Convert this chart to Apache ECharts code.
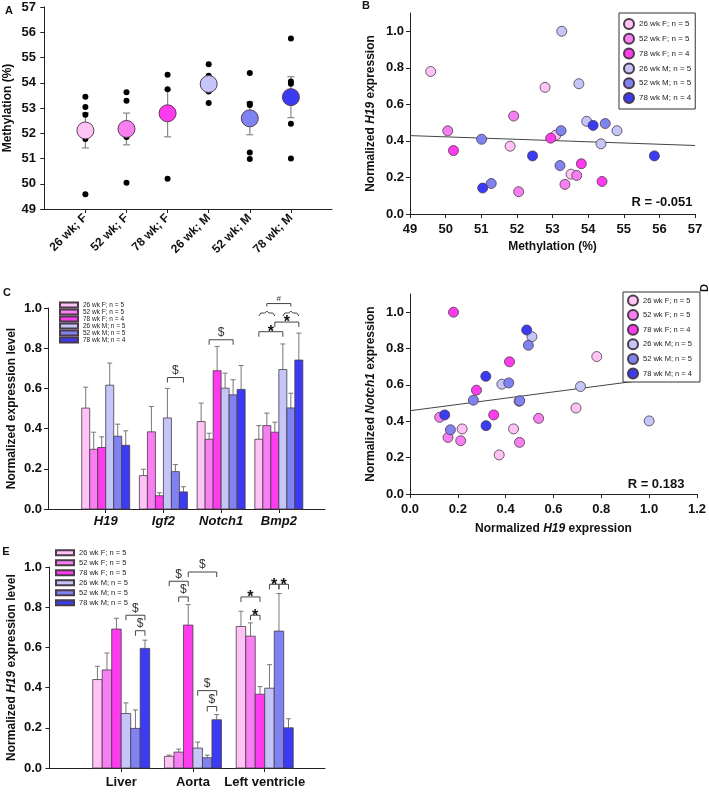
<!DOCTYPE html>
<html><head><meta charset="utf-8">
<script src="https://cdn.jsdelivr.net/npm/echarts@6/dist/echarts.min.js"></script>
<style>html,body{margin:0;padding:0;background:#fff}#c{width:709px;height:792px}</style>
</head><body><div id="c"></div>
<script>
// ---------- DATA ----------
const groupNames = ['26 wk F; n = 5','52 wk F; n = 5','78 wk F; n = 4','26 wk M; n = 5','52 wk M; n = 5','78 wk M; n = 4'];
const groupNamesE = ['26 wk F; n = 5','52 wk F; n = 5','78 wk F; n = 5','26 wk M; n = 5','52 wk M; n = 5','78 wk M; n = 5'];

// Panel A
const aCategories = ['26 wk; F','52 wk; F','78 wk; F','26 wk; M','52 wk; M','78 wk; M'];
const aMeans = [52.11, 52.17, 52.79, 53.95, 52.59, 53.43];
const aSem = [0.69, 0.63, 0.93, 0.30, 0.65, 0.81];
const aPoints = [
  [53.45, 53.04, 52.73, 51.77, 49.58],
  [53.62, 53.29, 51.95, 51.85, 50.04],
  [54.32, 53.74, 52.85, 52.84, 50.20],
  [54.73, 54.28, 53.95, 53.65, 53.20],
  [54.39, 53.17, 53.12, 51.24, 50.98],
  [55.75, 54.05, 53.96, 52.38, 51.00]
];
const aTicks = [49, 57];

// Panel B: [methylation %, normalized H19]
const bPoints = [
  [[49.58,0.780],[51.81,0.371],[52.79,0.693],[53.09,0.431],[53.52,0.218]],
  [[50.06,0.455],[51.91,0.536],[52.05,0.122],[53.35,0.162],[53.68,0.211]],
  [[50.22,0.347],[52.95,0.415],[53.81,0.275],[54.39,0.178]],
  [[53.26,1.000],[53.74,0.713],[53.96,0.507],[54.36,0.384],[54.81,0.456]],
  [[51.01,0.409],[51.28,0.167],[53.24,0.456],[53.21,0.265],[54.48,0.495]],
  [[51.04,0.142],[52.44,0.318],[54.14,0.485],[55.86,0.318]]
];
const bTrend = [[49, 0.429], [57, 0.375]];

// Panel C
const cGenes = ['H19','Igf2','Notch1','Bmp2'];
const cMeans = [
  [0.502, 0.166, 0.435, 0.347],
  [0.297, 0.384, 0.347, 0.415],
  [0.306, 0.066, 0.688, 0.382],
  [0.616, 0.453, 0.601, 0.694],
  [0.362, 0.186, 0.568, 0.503],
  [0.317, 0.085, 0.595, 0.741]
];
const cErr = [
  [0.104, 0.032, 0.092, 0.068],
  [0.085, 0.126, 0.030, 0.062],
  [0.053, 0.015, 0.121, 0.050],
  [0.110, 0.147, 0.075, 0.127],
  [0.060, 0.035, 0.075, 0.073],
  [0.072, 0.026, 0.119, 0.134]
];
// [gene index, from group, to group, y level, label, kind]
const cAnnot = [
  [1, 3, 5, 0.654, '$', 'bracket'],
  [2, 1, 4, 0.842, '$', 'bracket'],
  [3, 0, 3, 0.882, '*', 'bracket'],
  [3, 2, 5, 0.930, '*', 'bracket'],
  [3, 0, 2, 0.975, '', 'brace'],
  [3, 3, 5, 0.975, '', 'brace'],
  [3, 1, 4, 1.022, '#', 'line']
];

// Panel D: [normalized H19, normalized Notch1]
const dPoints = [
  [[0.781,0.756],[0.694,0.473],[0.218,0.358],[0.433,0.358],[0.373,0.215]],
  [[0.124,0.422],[0.538,0.416],[0.159,0.311],[0.212,0.293],[0.458,0.284]],
  [[0.182,1.000],[0.416,0.727],[0.278,0.571],[0.350,0.435]],
  [[1.000,0.402],[0.713,0.591],[0.510,0.865],[0.384,0.604],[0.456,0.510]],
  [[0.495,0.818],[0.413,0.611],[0.265,0.516],[0.459,0.513],[0.169,0.353]],
  [[0.488,0.902],[0.317,0.647],[0.145,0.435],[0.318,0.376]]
];
const dTrend = [[0, 0.458], [1.2, 0.665]];
const rValues = ['-0.051', '0.183'];

// Panel E
const eTissues = ['Liver','Aorta','Left ventricle'];
const eMeans = [
  [0.440, 0.058, 0.704],
  [0.488, 0.079, 0.656],
  [0.691, 0.711, 0.367],
  [0.271, 0.099, 0.397],
  [0.197, 0.051, 0.681],
  [0.595, 0.240, 0.200]
];
const eErr = [
  [0.066, 0.006, 0.076],
  [0.084, 0.015, 0.066],
  [0.054, 0.102, 0.038],
  [0.053, 0.030, 0.117],
  [0.092, 0.013, 0.187],
  [0.041, 0.026, 0.045]
];
const eAnnot = [
  [0, 3, 5, 0.760, '$', 'bracket'],
  [0, 4, 5, 0.683, '$', 'bracket'],
  [1, 0, 2, 0.929, '$', 'bracket'],
  [1, 1, 2, 0.851, '$', 'bracket'],
  [1, 2, 5, 0.975, '$', 'bracket'],
  [1, 3, 5, 0.385, '$', 'bracket'],
  [1, 4, 5, 0.306, '$', 'bracket'],
  [2, 0, 2, 0.851, '*', 'bracket'],
  [2, 1, 2, 0.760, '*', 'bracket'],
  [2, 3, 4, 0.914, '*', 'bracket'],
  [2, 4, 5, 0.914, '*', 'bracket']
];
const unitTicks = [0, 0.2, 0.4, 0.6, 0.8, 1.0];

// ---------- STYLE ----------
const FONT = '"Liberation Sans", Arial, Helvetica, sans-serif';
const colors = ['#ffc3f5','#f77ff1','#ff3bee','#c3c6f7','#7f83f1','#3b3bf3'];
const markBorder = '#4a3a4a';
const axisLine = {lineStyle:{color:'#222', width:1}};
const tickStyle = {length:4, lineStyle:{color:'#222', width:1}};
const lbl = (o) => Object.assign({color:'#111', fontWeight:'bold', fontSize:13, fontFamily:FONT}, o||{});
const nameStyle = {color:'#111', fontWeight:'bold', fontSize:12, fontFamily:FONT,
  rich:{i:{fontStyle:'italic', fontWeight:'bold', fontSize:12, fontFamily:FONT, color:'#111'}}};

function range(a, b){ const r=[]; for(let i=a;i<=b;i++) r.push(i); return r; }

// ---------- RENDERERS ----------
function barRender(k, frac){
  return function(params, api){
    const cx = api.value(0), v = api.value(1), e = api.value(2);
    const w = api.size([1, 0])[0] * frac;
    const base = api.coord([cx, 0]);
    const top = api.coord([cx, v]);
    const et = api.coord([cx, v + e]);
    const x0 = base[0] + (k - 3) * w;
    const xc = x0 + w / 2;
    return {type:'group', children:[
      {type:'line', shape:{x1:xc, y1:top[1], x2:xc, y2:et[1]}, style:{stroke:'#777', lineWidth:1}},
      {type:'line', shape:{x1:xc - 2.5, y1:et[1], x2:xc + 2.5, y2:et[1]}, style:{stroke:'#777', lineWidth:1}},
      {type:'rect', shape:{x:x0, y:top[1], width:w, height:base[1]-top[1]},
        style:{fill:api.visual('color'), stroke:markBorder, lineWidth:0.8}}
    ]};
  };
}
function annotRender(list, frac){
  return function(params, api){
    const a = list[params.dataIndex];
    const w = api.size([1, 0])[0] * frac;
    const p = api.coord([a[0] + 1, a[3]]);
    const x1 = p[0] + (a[1] - 2.5) * w, x2 = p[0] + (a[2] - 2.5) * w, y = p[1];
    const mid = (x1 + x2) / 2;
    const st = {stroke:'#444', lineWidth:1, fill:null};
    const ch = [];
    if (a[5] === 'brace') {
      ch.push({type:'polyline', shape:{points:[[x1,y+3],[x1+2,y],[mid-2,y],[mid,y-2],[mid+2,y],[x2-2,y],[x2,y+3]]}, style:st});
    } else if (a[5] === 'line') {
      ch.push({type:'polyline', shape:{points:[[x1,y+3],[x1,y],[x2,y],[x2,y+3]]}, style:st});
    } else {
      ch.push({type:'polyline', shape:{points:[[x1,y+5],[x1,y],[x2,y],[x2,y+5]]}, style:st});
    }
    if (a[4] === '*') {
      ch.push({type:'text', style:{text:'*', x:mid, y:y+1, align:'center', verticalAlign:'middle', textAlign:'center', textVerticalAlign:'middle', font:'bold 16px '+FONT, fill:'#111'}});
    } else if (a[4] === '#') {
      ch.push({type:'text', style:{text:'#', x:mid, y:y-1, align:'center', verticalAlign:'bottom', textAlign:'center', textVerticalAlign:'bottom', font:'8px '+FONT, fill:'#333'}});
    } else if (a[4]) {
      ch.push({type:'text', style:{text:a[4], x:mid, y:y-1, align:'center', verticalAlign:'bottom', textAlign:'center', textVerticalAlign:'bottom', font:'12px '+FONT, fill:'#333'}});
    }
    return {type:'group', children:ch};
  };
}
function errRender(params, api){
  const x = api.value(0), m = api.value(1), s = api.value(2);
  const lo = api.coord([x, m - s]), hi = api.coord([x, m + s]);
  const st = {stroke:'#888', lineWidth:1.2};
  return {type:'group', children:[
    {type:'line', shape:{x1:lo[0], y1:lo[1], x2:hi[0], y2:hi[1]}, style:st},
    {type:'line', shape:{x1:lo[0]-3.5, y1:lo[1], x2:lo[0]+3.5, y2:lo[1]}, style:st},
    {type:'line', shape:{x1:hi[0]-3.5, y1:hi[1], x2:hi[0]+3.5, y2:hi[1]}, style:st}
  ]};
}

// ---------- OPTION ----------
const grids = [
  {left:41, top:7, width:291, height:202},
  {left:410, top:13, width:285, height:201},
  {left:48, top:308, width:277, height:201},
  {left:410, top:294, width:289, height:200},
  {left:48, top:567, width:277, height:201}
];

const xAxes = [
  {gridIndex:0, type:'value', min:-0.08, max:aCategories.length + 1, axisLine, splitLine:{show:false},
    axisTick:Object.assign({customValues:range(1, aCategories.length)}, tickStyle),
    axisLabel:lbl({customValues:range(1, aCategories.length), rotate:45, fontSize:12, margin:7,
      formatter:v => aCategories[Math.round(v) - 1] || ''})},
  {gridIndex:1, type:'value', min:49, max:57, interval:1, axisLine, axisTick:tickStyle, splitLine:{show:false},
    axisLabel:lbl({margin:9}), name:'Methylation (%)', nameLocation:'middle', nameGap:27, nameTextStyle:nameStyle},
  {gridIndex:2, type:'value', min:0, max:4.8, axisLine, splitLine:{show:false},
    axisTick:Object.assign({customValues:range(1, cGenes.length)}, tickStyle),
    axisLabel:lbl({customValues:range(1, cGenes.length), fontStyle:'italic', margin:6,
      formatter:v => cGenes[Math.round(v) - 1] || ''})},
  {gridIndex:3, type:'value', min:0, max:1.2, interval:0.2, axisLine, axisTick:tickStyle, splitLine:{show:false},
    axisLabel:lbl({margin:9, formatter:v => v.toFixed(1)}),
    name:'Normalized {i|H19} expression', nameLocation:'middle', nameGap:29, nameTextStyle:nameStyle},
  {gridIndex:4, type:'value', min:-0.02, max:3.84, axisLine, splitLine:{show:false},
    axisTick:Object.assign({customValues:range(1, eTissues.length)}, tickStyle),
    axisLabel:lbl({customValues:range(1, eTissues.length), margin:8,
      formatter:v => eTissues[Math.round(v) - 1] || ''})}
];
const yAxes = [
  {gridIndex:0, type:'value', min:aTicks[0], max:aTicks[1], interval:1, axisLine, axisTick:tickStyle, splitLine:{show:false},
    axisLabel:lbl({margin:5}), name:'Methylation (%)', nameLocation:'middle', nameGap:27, nameTextStyle:nameStyle},
  {gridIndex:1, type:'value', min:0, max:1.1, axisLine, splitLine:{show:false},
    axisTick:Object.assign({customValues:unitTicks}, tickStyle),
    axisLabel:lbl({customValues:unitTicks, margin:6, formatter:v => v.toFixed(1)}),
    name:'Normalized {i|H19} expression', nameLocation:'middle', nameGap:33, nameTextStyle:nameStyle},
  {gridIndex:2, type:'value', min:0, max:1, interval:0.2, axisLine, axisTick:tickStyle, splitLine:{show:false},
    axisLabel:lbl({margin:6, formatter:v => v.toFixed(1)}),
    name:'Normalized expression level', nameLocation:'middle', nameGap:30, nameTextStyle:nameStyle},
  {gridIndex:3, type:'value', min:0, max:1.1, axisLine, splitLine:{show:false},
    axisTick:Object.assign({customValues:unitTicks}, tickStyle),
    axisLabel:lbl({customValues:unitTicks, margin:6, formatter:v => v.toFixed(1)}),
    name:'Normalized {i|Notch1} expression', nameLocation:'middle', nameGap:33, nameTextStyle:nameStyle},
  {gridIndex:4, type:'value', min:0, max:1, interval:0.2, axisLine, axisTick:tickStyle, splitLine:{show:false},
    axisLabel:lbl({margin:6, formatter:v => v.toFixed(1)}),
    name:'Normalized {i|H19} expression level', nameLocation:'middle', nameGap:30, nameTextStyle:nameStyle}
];

const series = [];
// Panel A
series.push({type:'custom', xAxisIndex:0, yAxisIndex:0, z:1, silent:true, renderItem:errRender,
  data:aMeans.map((m, i) => [i + 1, m, aSem[i]])});
series.push({type:'scatter', xAxisIndex:0, yAxisIndex:0, z:2, silent:true, symbolSize:6,
  itemStyle:{color:'#000', opacity:1}, data:aPoints.flatMap((g, i) => g.map(v => [i + 1, v]))});
series.push({type:'scatter', xAxisIndex:0, yAxisIndex:0, z:3, silent:true, symbolSize:17,
  itemStyle:{color:p => colors[p.dataIndex], borderColor:'#5a3a5a', borderWidth:1, opacity:1},
  data:aMeans.map((m, i) => [i + 1, m])});
// Panel B
bPoints.forEach((g, k) => series.push({type:'scatter', name:groupNames[k], xAxisIndex:1, yAxisIndex:1, z:3,
  symbolSize:10, itemStyle:{color:colors[k], borderColor:markBorder, borderWidth:0.8, opacity:1}, data:g}));
series.push({type:'line', xAxisIndex:1, yAxisIndex:1, z:2, silent:true, symbol:'none',
  lineStyle:{color:'#444', width:1}, data:bTrend});
// Panel C
cMeans.forEach((row, k) => series.push({type:'custom', name:groupNames[k], xAxisIndex:2, yAxisIndex:2,
  itemStyle:{color:colors[k], borderColor:markBorder, borderWidth:0.8},
  renderItem:barRender(k, 0.1386), data:row.map((v, j) => [j + 1, v, cErr[k][j]])}));
series.push({type:'custom', xAxisIndex:2, yAxisIndex:2, silent:true, clip:false,
  renderItem:annotRender(cAnnot, 0.1386), data:cAnnot.map(a => [a[0] + 1, a[3]])});
// Panel D
dPoints.forEach((g, k) => series.push({type:'scatter', name:groupNames[k], xAxisIndex:3, yAxisIndex:3, z:3,
  symbolSize:10, itemStyle:{color:colors[k], borderColor:markBorder, borderWidth:0.8, opacity:1}, data:g}));
series.push({type:'line', xAxisIndex:3, yAxisIndex:3, z:2, silent:true, symbol:'none',
  lineStyle:{color:'#444', width:1}, data:dTrend});
// Panel E
eMeans.forEach((row, k) => series.push({type:'custom', name:groupNamesE[k], xAxisIndex:4, yAxisIndex:4,
  itemStyle:{color:colors[k], borderColor:markBorder, borderWidth:0.8},
  renderItem:barRender(k, 0.1324), data:row.map((v, j) => [j + 1, v, eErr[k][j]])}));
series.push({type:'custom', xAxisIndex:4, yAxisIndex:4, silent:true, clip:false,
  renderItem:annotRender(eAnnot, 0.1324), data:eAnnot.map(a => [a[0] + 1, a[3]])});

const legendText = (fs, lh) => ({color:'#222', fontSize:fs, lineHeight:lh, fontFamily:FONT});
const legends = [
  {orient:'vertical', left:619, top:13, padding:[5,4,5,4], itemWidth:10, itemHeight:10, itemGap:2.8,
    icon:'circle', borderColor:'#333', borderWidth:1, backgroundColor:'#fff', selectedMode:false,
    textStyle:legendText(8, 10), data:groupNames},
  {orient:'vertical', left:59, top:301.5, padding:0, itemWidth:18, itemHeight:5, itemGap:0,
    icon:'rect', selectedMode:false, textStyle:legendText(6.5, 6.8), data:groupNames},
  {orient:'vertical', left:623, top:292, padding:[2.5,8,2.5,4], itemWidth:10, itemHeight:10, itemGap:2.6,
    icon:'circle', borderColor:'#333', borderWidth:1, backgroundColor:'#fff', selectedMode:false,
    textStyle:legendText(7.5, 10), data:groupNames},
  {orient:'vertical', left:55, top:547.7, padding:0, itemWidth:18, itemHeight:5, itemGap:0,
    icon:'rect', selectedMode:false, textStyle:legendText(7.5, 10), data:groupNamesE}
];

const letter = (t, x, y, rot) => ({type:'text', x, y, rotation:rot||0, silent:true,
  style:{text:t, font:'bold 11px '+FONT, fill:'#111', textAlign:'center', textVerticalAlign:'middle', align:'center', verticalAlign:'middle'}});
const graphic = [
  letter('A', 9, 11), letter('B', 366, 6), letter('C', 7, 293), letter('E', 6, 552), letter('D', 705, 288, Math.PI/2),
  {type:'text', x:662, y:202, silent:true, style:{text:'R = ' + rValues[0], font:'bold 13px '+FONT, fill:'#111', textAlign:'center', textVerticalAlign:'middle', align:'center', verticalAlign:'middle'}},
  {type:'text', x:656, y:484, silent:true, style:{text:'R = ' + rValues[1], font:'bold 13px '+FONT, fill:'#111', textAlign:'center', textVerticalAlign:'middle', align:'center', verticalAlign:'middle'}}
];

const chart = echarts.init(document.getElementById('c'), null, {renderer:'canvas'});
chart.setOption({
  animation:false, backgroundColor:'#fff',
  textStyle:{fontFamily:FONT},
  grid:grids, xAxis:xAxes, yAxis:yAxes, legend:legends, series, graphic
});
</script></body></html>
